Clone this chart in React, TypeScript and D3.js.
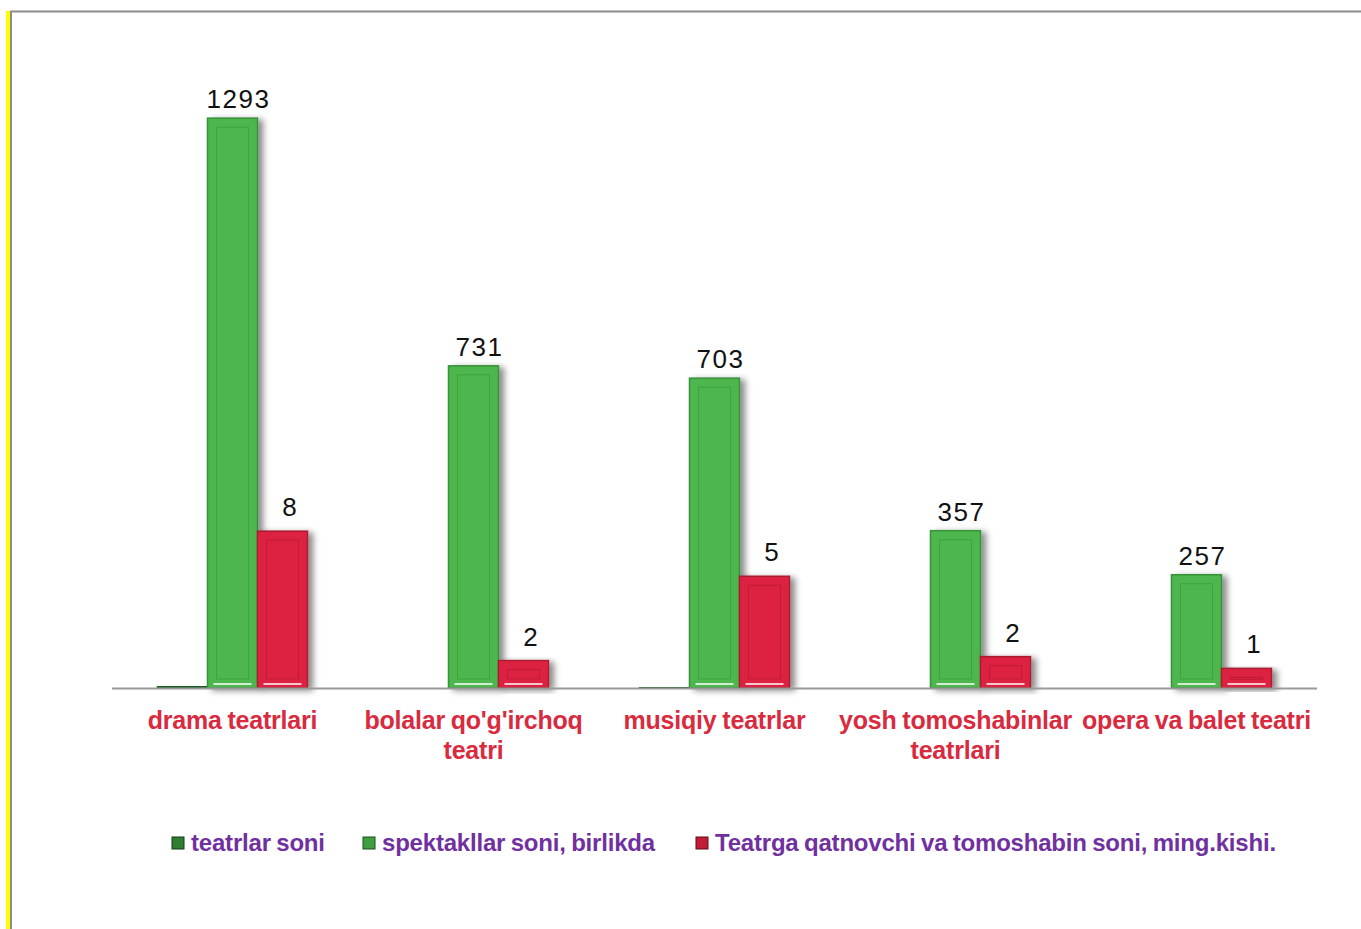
import { useEffect, useRef } from "react";
import * as d3 from "d3";

// categories on the x axis
const categories = [
  ["drama teatrlari"],
  ["bolalar qo'g'irchoq", "teatri"],
  ["musiqiy teatrlar"],
  ["yosh tomoshabinlar", "teatrlari"],
  ["opera va balet teatri"],
];

const seriesNames = [
  "teatrlar soni",
  "spektakllar soni, birlikda",
  "Teatrga qatnovchi va tomoshabin soni, ming.kishi.",
];

const teatrlarSoni = [4, 0, 2, 0, 0];
const spektakllarSoni = [1293, 731, 703, 357, 257];
const tomoshabinSoni = [8, 1.4, 5.7, 1.6, 1.0];
const tomoshabinLabels = ["8", "2", "5", "2", "1"];

const W = 1361;
const H = 929;

export default function App() {
  const svgRef = useRef<SVGSVGElement>(null);

  useEffect(() => {
    const svg = d3.select(svgRef.current);
    svg.selectAll("*").remove();

    const margin = { top: 71, left: 112, right: 44, bottom: 241 };
    const baseY = H - margin.bottom;

    // x scales: categories, then the three bars inside each one
    const x = d3
      .scaleBand()
      .domain(categories.map((d, i) => String(i)))
      .range([margin.left, W - margin.right])
      .padding(0);
    const bw = x.bandwidth();
    const xs = d3
      .scaleBand()
      .domain(["0", "1", "2"])
      .range([(bw - 150) / 2, (bw + 150) / 2])
      .padding(0);

    // primary and secondary value axes
    const y = d3.scaleLinear().domain([0, 1400]).range([baseY, margin.top]);
    const y2 = d3.scaleLinear().domain([0, 10]).range([baseY, baseY - 196]);

    const defs = svg.append("defs");
    const f = defs
      .append("filter")
      .attr("id", "shadow")
      .attr("x", "-20%")
      .attr("y", "-10%")
      .attr("width", "160%")
      .attr("height", "130%");
    f.append("feDropShadow")
      .attr("dx", 5)
      .attr("dy", 2)
      .attr("stdDeviation", 3)
      .attr("flood-color", "#000")
      .attr("flood-opacity", 0.45);

    // frame
    svg.append("rect").attr("x", 0).attr("y", 0).attr("width", W).attr("height", H).attr("fill", "#fff");
    svg.append("rect").attr("x", 6).attr("y", 11).attr("width", 4).attr("height", H - 11).attr("fill", "#ffff00");
    svg.append("line").attr("x1", 10).attr("x2", W).attr("y1", 11.5).attr("y2", 11.5).attr("stroke", "#8c8c8c").attr("stroke-width", 2);
    svg.append("line").attr("x1", 11).attr("x2", 11).attr("y1", 11).attr("y2", H).attr("stroke", "#8c8c8c").attr("stroke-width", 2);

    const series = [
      { values: teatrlarSoni, scale: y, fill: "#2e7d32", stroke: "#1f5a22", inner: "#2e7d32" },
      { values: spektakllarSoni, scale: y, fill: "#4db74d", stroke: "#37913a", inner: "#3fa43f" },
      { values: tomoshabinSoni, scale: y2, fill: "#dc2340", stroke: "#a91a30", inner: "#c01c36" },
    ];

    const bars = svg.append("g");
    series.forEach((s, si) => {
      s.values.forEach((v, ci) => {
        const x0 = (x(String(ci)) as number) + (xs(String(si)) as number);
        const w = xs.bandwidth();
        const top = s.scale(v);
        const h = baseY - top;
        if (h <= 0) return;
        const g = bars.append("g");
        g.append("rect")
          .attr("x", x0)
          .attr("y", top)
          .attr("width", w)
          .attr("height", h)
          .attr("fill", s.fill)
          .attr("stroke", s.stroke)
          .attr("stroke-width", 1.5)
          .attr("filter", "url(#shadow)");
        if (h > 14) {
          g.append("rect")
            .attr("x", x0 + 9)
            .attr("y", top + 9)
            .attr("width", w - 18)
            .attr("height", Math.max(h - 18, 2))
            .attr("fill", "none")
            .attr("stroke", s.inner)
            .attr("stroke-width", 1);
          g.append("line")
            .attr("x1", x0 + 6)
            .attr("x2", x0 + w - 6)
            .attr("y1", baseY - 4)
            .attr("y2", baseY - 4)
            .attr("stroke", "#ffffff")
            .attr("stroke-opacity", 0.75)
            .attr("stroke-width", 2);
        }
      });
    });

    // axis line
    svg.append("line")
      .attr("x1", margin.left)
      .attr("x2", W - margin.right)
      .attr("y1", baseY + 0.5)
      .attr("y2", baseY + 0.5)
      .attr("stroke", "#9a9a9a")
      .attr("stroke-width", 2);

    // value labels
    const labelFont = "'Liberation Sans', Arial, sans-serif";
    spektakllarSoni.forEach((v, ci) => {
      const cx = (x(String(ci)) as number) + (xs("1") as number) + xs.bandwidth() / 2;
      svg.append("text")
        .attr("x", cx + 6)
        .attr("y", y(v) - 10)
        .attr("text-anchor", "middle")
        .attr("font-family", labelFont)
        .attr("font-size", 26)
        .attr("letter-spacing", 1.5)
        .attr("fill", "#111")
        .text(String(v));
    });
    tomoshabinSoni.forEach((v, ci) => {
      const cx = (x(String(ci)) as number) + (xs("2") as number) + xs.bandwidth() / 2;
      svg.append("text")
        .attr("x", cx + 7)
        .attr("y", y2(v) - 15)
        .attr("text-anchor", "middle")
        .attr("font-family", labelFont)
        .attr("font-size", 26)
        .attr("fill", "#111")
        .text(tomoshabinLabels[ci]);
    });

    // category labels
    const catFont = "'Liberation Sans', Arial, sans-serif";
    categories.forEach((lines, ci) => {
      const cx = (x(String(ci)) as number) + bw / 2;
      const t = svg.append("text")
        .attr("text-anchor", "middle")
        .attr("font-family", catFont)
        .attr("font-size", 25)
        .attr("font-weight", "bold")
        .attr("letter-spacing", -0.2)
        .attr("word-spacing", -1)
        .attr("fill", "#d92a40");
      lines.forEach((ln, li) => {
        t.append("tspan").attr("x", cx).attr("y", baseY + 41 + li * 30).text(ln);
      });
    });

    // legend
    const legendX = [172, 363, 696];
    const legendFill = ["#2e7d32", "#3f9e3f", "#c01c36"];
    const legendStroke = ["#123d14", "#1d4f1f", "#5e0d19"];
    seriesNames.forEach((name, i) => {
      svg.append("rect")
        .attr("x", legendX[i])
        .attr("y", 837)
        .attr("width", 12)
        .attr("height", 12)
        .attr("fill", legendFill[i])
        .attr("stroke", legendStroke[i])
        .attr("stroke-width", 1);
      svg.append("text")
        .attr("x", legendX[i] + 19)
        .attr("y", 851)
        .attr("font-family", catFont)
        .attr("font-size", 24)
        .attr("font-weight", "bold")
        .attr("letter-spacing", -0.2)
        .attr("word-spacing", -1)
        .attr("fill", "#7030a0")
        .text(name);
    });
  }, []);

  return (
    <svg
      ref={svgRef}
      width={W}
      height={H}
      style={{ position: "absolute", left: 0, top: 0 }}
    />
  );
}
